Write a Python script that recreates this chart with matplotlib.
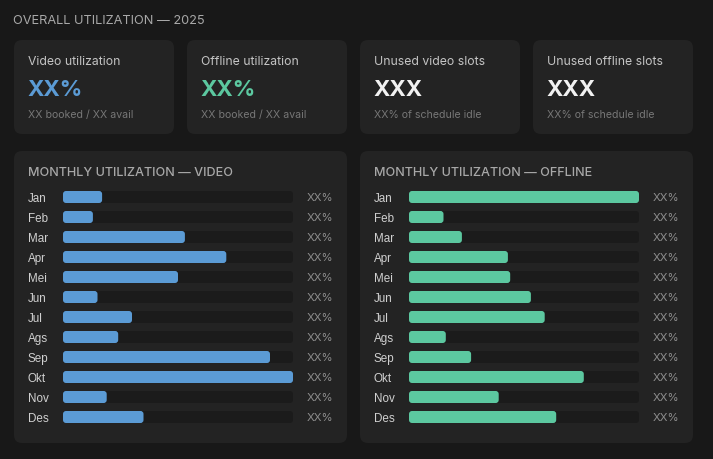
import matplotlib
matplotlib.use("Agg")
import matplotlib.pyplot as plt
from matplotlib.patches import FancyBboxPatch

# data
months = ["Jan", "Feb", "Mar", "Apr", "Mei", "Jun", "Jul", "Ags", "Sep", "Okt", "Nov", "Des"]
video_util = [17, 13, 53, 71, 50, 15, 30, 24, 90, 100, 19, 35]
offline_util = [100, 15, 23, 43, 44, 53, 59, 16, 27, 76, 39, 64]
value_label = "XX%"

kpi_titles = ["Video utilization", "Offline utilization", "Unused video slots", "Unused offline slots"]
kpi_values = ["XX%", "XX%", "XXX", "XXX"]
kpi_subs = ["XX booked / XX avail", "XX booked / XX avail", "XX% of schedule idle", "XX% of schedule idle"]

BG = "#181818"
CARD = "#232323"
TRACK = "#1b1b1b"
BLUE = "#5b9bd5"
GREEN = "#5cc8a0"
kpi_colors = [BLUE, GREEN, "#f2f2f2", "#f2f2f2"]

FONT = "Inter"
W, H = 713, 460
fig = plt.figure(figsize=(W / 100, H / 100), dpi=100, facecolor=BG)

# background axes in pixel coordinates
bg = fig.add_axes([0, 0, 1, 1])
bg.set_xlim(0, W)
bg.set_ylim(H, 0)
bg.axis("off")


def card(x, y, w, h):
    bg.add_patch(FancyBboxPatch((x, y), w, h, boxstyle="round,pad=0,rounding_size=8",
                                fc=CARD, ec="none"))


def round_bars(ax, bars, aspect):
    # swap square barh rectangles for rounded ones of the same size
    for b in bars:
        x, y = b.get_x(), b.get_y()
        w, h = b.get_width(), b.get_height()
        ax.add_patch(FancyBboxPatch((x, y), w, h, boxstyle="round,pad=0,rounding_size=1.3",
                                    mutation_aspect=aspect, fc=b.get_facecolor(),
                                    ec="none", zorder=b.get_zorder()))
        b.remove()


bg.text(13, 21, "OVERALL UTILIZATION — 2025", color="#a8a8a8", fontsize=9.2,
        family=FONT, va="center", ha="left")

# KPI cards
for i in range(4):
    x0 = 14 + i * 173
    card(x0, 41, 160, 94)
    bg.text(x0 + 14, 62, kpi_titles[i], color="#c4c4c4", fontsize=8.8, family=FONT,
            va="center")
    bg.text(x0 + 13, 90, kpi_values[i], color=kpi_colors[i], fontsize=16,
            fontweight="bold", family=FONT, va="center")
    bg.text(x0 + 14, 115, kpi_subs[i], color="#777777", fontsize=7.6, family=FONT,
            va="center")

# monthly panels
panels = [(14, "MONTHLY UTILIZATION — VIDEO", video_util, BLUE),
          (360, "MONTHLY UTILIZATION — OFFLINE", offline_util, GREEN)]

for px, title, vals, col in panels:
    card(px, 152, 333, 292)
    bg.text(px + 14, 173, title, color="#a8a8a8", fontsize=9.1, family=FONT,
            fontweight="medium", va="center")

    tx0 = px + 49
    tw = 230
    ax = fig.add_axes([tx0 / W, 1 - 428 / H, tw / W, 240 / H])
    ax.set_facecolor("none")
    ypos = list(range(len(months)))
    tracks = ax.barh(ypos, [100] * len(months), height=0.6, color=TRACK)
    fills = ax.barh(ypos, vals, height=0.6, color=col)
    ax.set_xlim(0, 100)
    ax.set_ylim(len(months) - 0.5, -0.5)
    # pixels per unit: x 2.3, y 20 -> keep corner radius round on screen
    round_bars(ax, tracks, 2.3 / 20)
    round_bars(ax, fills, 2.3 / 20)
    ax.set_xticks([])
    ax.set_yticks(ypos)
    ax.set_yticklabels(months, family="Liberation Sans", fontsize=8.4, color="#d0d0d0",
                       ha="left")
    ax.tick_params(axis="y", length=0, pad=35 * 0.72)
    for s in ax.spines.values():
        s.set_visible(False)
    for y in ypos:
        ax.text(106, y, value_label, color="#8c8c8c", fontsize=8.2, family=FONT,
                va="center", ha="left", clip_on=False)

fig.savefig("out.png", dpi=100, facecolor=BG)
